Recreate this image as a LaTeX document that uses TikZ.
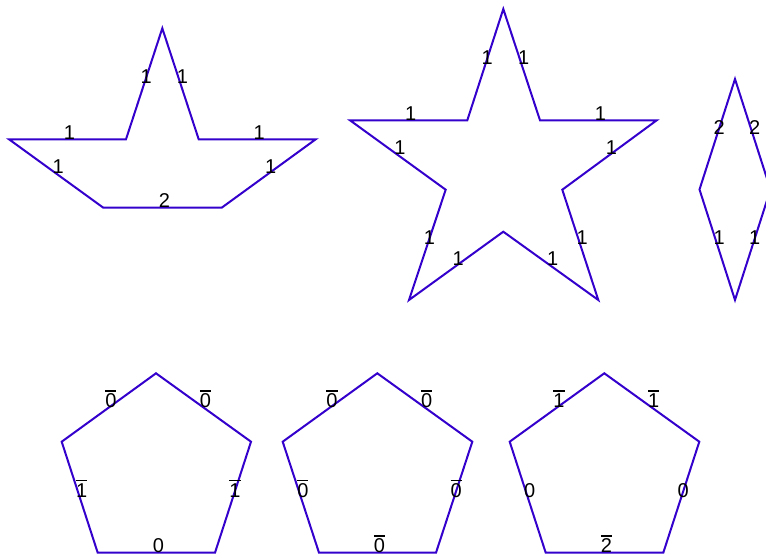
\documentclass[tikz,border=0pt]{standalone}
\usepackage{fontspec}
\setmainfont{Liberation Sans}
\newcommand\ovl[1]{\setbox0\hbox{#1}\rlap{\raisebox{0.8em}{\rule{\wd0}{0.07em}}}\box0}
\definecolor{edgeblue}{RGB}{51,0,204}
\tikzset{
  edge/.style={draw=edgeblue, line width=2pt, line join=miter},
  lab/.style={anchor=base, xshift=2pt, inner sep=0pt, outer sep=0pt, font=\fontsize{20}{22}\selectfont, text=black}
}
\begin{document}
\begin{tikzpicture}[x=1pt,y=-1pt]
\useasboundingbox (0,0) rectangle (766,556);
\clip (0,0) rectangle (766,556);
% boat shape
\coordinate (b1) at (9,139.3);
\coordinate (b2) at (126,139.3);
\coordinate (b3) at (162.3,28.3);
\coordinate (b4) at (198.7,139.3);
\coordinate (b5) at (315.7,139.3);
\coordinate (b6) at (221.7,207.7);
\coordinate (b7) at (103.3,207.7);
\draw[edge] (b1) -- node[lab](bl1){1} (b2) -- node[lab](bl2){1} (b3) -- node[lab](bl3){1} (b4) -- node[lab](bl4){1} (b5) -- node[lab](bl5){1} (b6) -- node[lab](bl6){2} (b7) -- node[lab](bl7){1} cycle;
% star
\coordinate (s1) at (503.3,9);
\coordinate (s2) at (540,120.3);
\coordinate (s3) at (656.7,120.3);
\coordinate (s4) at (562.3,189.7);
\coordinate (s5) at (598.3,300);
\coordinate (s6) at (503.3,231.7);
\coordinate (s7) at (409,300);
\coordinate (s8) at (445.7,189.7);
\coordinate (s9) at (350,120.3);
\coordinate (s10) at (467.3,120.3);
\draw[edge] (s1) -- node[lab](sl1){1} (s2) -- node[lab](sl2){1} (s3) -- node[lab](sl3){1} (s4) -- node[lab](sl4){1} (s5) -- node[lab](sl5){1} (s6) -- node[lab](sl6){1} (s7) -- node[lab](sl7){1} (s8) -- node[lab](sl8){1} (s9) -- node[lab](sl9){1} (s10) -- node[lab](sl10){1} cycle;
% rhombus
\coordinate (r1) at (735,79);
\coordinate (r2) at (770.5,189.5);
\coordinate (r3) at (735,300);
\coordinate (r4) at (699.5,189.5);
\draw[edge] (r1) -- node[lab](rl1){2} (r2) -- node[lab](rl2){1} (r3) -- node[lab](rl3){1} (r4) -- node[lab](rl4){2} cycle;
% pentagon 1
\coordinate (pa1) at (156,373.3);
\coordinate (pa2) at (251,441.7);
\coordinate (pa3) at (215,552.7);
\coordinate (pa4) at (97.7,552.7);
\coordinate (pa5) at (61.7,441.7);
\draw[edge] (pa1) -- node[lab](pal1){\ovl{0}} (pa2) -- node[lab](pal2){\ovl{1}} (pa3) -- node[lab](pal3){0} (pa4) -- node[lab](pal4){\ovl{1}} (pa5) -- node[lab](pal5){\ovl{0}} cycle;
% pentagon 2
\coordinate (pb1) at (377.3,373.3);
\coordinate (pb2) at (472.3,441.7);
\coordinate (pb3) at (436,552.7);
\coordinate (pb4) at (319,552.7);
\coordinate (pb5) at (282.7,441.7);
\draw[edge] (pb1) -- node[lab](pbl1){\ovl{0}} (pb2) -- node[lab](pbl2){\ovl{0}} (pb3) -- node[lab](pbl3){\ovl{0}} (pb4) -- node[lab](pbl4){\ovl{0}} (pb5) -- node[lab](pbl5){\ovl{0}} cycle;
% pentagon 3
\coordinate (pc1) at (604.3,373.3);
\coordinate (pc2) at (699.3,441.7);
\coordinate (pc3) at (663.3,552.7);
\coordinate (pc4) at (545.7,552.7);
\coordinate (pc5) at (509.7,441.7);
\draw[edge] (pc1) -- node[lab](pcl1){\ovl{1}} (pc2) -- node[lab](pcl2){0} (pc3) -- node[lab](pcl3){\ovl{2}} (pc4) -- node[lab](pcl4){0} (pc5) -- node[lab](pcl5){\ovl{1}} cycle;
\end{tikzpicture}
\end{document}
